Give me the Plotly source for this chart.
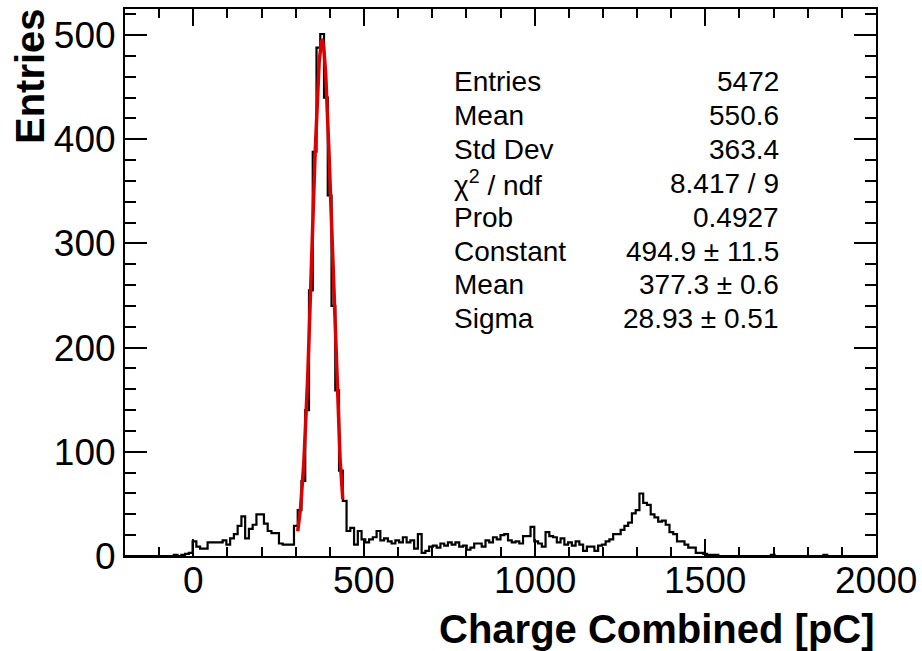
import numpy as np
import plotly.graph_objects as go

# ---------------- data ----------------
n_bins = 200
x_min, x_max = -200.0, 2000.0
counts = ([0] * 13 +
          [1, 0, 1, 2, 3, 14, 9, 7, 7, 13, 13, 13, 13, 15, 11, 17, 21, 29, 38, 17,
           26, 30, 40, 40, 31, 24, 22, 22, 12, 11, 11, 11, 29, 44, 72, 140, 255, 388, 488, 501,
           440, 346, 240, 159, 82, 53, 24, 27, 11, 24, 16, 13, 16, 18, 24, 15, 17, 14, 12, 15,
           13, 18, 13, 15, 7, 21, 3, 5, 9, 10, 8, 12, 10, 13, 11, 13, 9, 10, 6, 8,
           12, 12, 9, 15, 13, 18, 16, 20, 21, 15, 13, 14, 12, 19, 19, 28, 14, 12, 9, 23,
           19, 18, 13, 17, 11, 13, 10, 14, 11, 5, 9, 9, 5, 10, 11, 14, 16, 21, 21, 25,
           29, 32, 41, 44, 60, 51, 49, 40, 37, 33, 34, 30, 23, 21, 14, 14, 11, 8, 8, 3,
           3, 2, 1, 1, 1] +
          [0] * 14 + [1] + [0] * 13 + [1] + [0] * 13)
assert len(counts) == n_bins

# Gaussian fit parameters (from the stats box) and fit range
fit_const, fit_mean, fit_sigma = 494.9, 377.3, 28.93
fit_lo, fit_hi = 306.0, 438.0

stat_labels = ["Entries", "Mean", "Std Dev", "\u03c7<sup>2</sup> / ndf", "Prob",
               "Constant", "Mean", "Sigma"]
stat_values = ["5472", "550.6", "363.4", "8.417 / 9", "0.4927",
               "494.9 \u00b1 11.5", "377.3 \u00b1 0.6", "28.93 \u00b1 0.51"]

x_ticks = [0, 500, 1000, 1500, 2000]
y_ticks = [0, 100, 200, 300, 400, 500]
x_title = "Charge Combined [pC]"
y_title = "Entries"

# ---------------- figure ----------------
W, H = 922, 651
L, R, T, B = 125, 46, 7, 95
pw, ph = W - L - R, H - T - B

def px2paper(px, py):
    return (px - L) / pw, (H - B - py) / ph

edges = np.linspace(x_min, x_max, n_bins + 1)
ystep = list(counts) + [counts[-1]]

xf = np.linspace(fit_lo, fit_hi, 300)
yf = fit_const * np.exp(-0.5 * ((xf - fit_mean) / fit_sigma) ** 2)

FONT = "Liberation Sans, Arial, Helvetica, sans-serif"

fig = go.Figure()
fig.add_trace(go.Scatter(x=edges, y=ystep, mode="lines", line_shape="hv",
                         line=dict(color="black", width=2.2), hoverinfo="skip"))
fig.add_trace(go.Scatter(x=xf, y=yf, mode="lines",
                         line=dict(color="#dd0000", width=3.5), hoverinfo="skip"))

annotations = []
row0, dy = 80, 34
for i, (lab, val) in enumerate(zip(stat_labels, stat_values)):
    yy = row0 + i * dy
    xa, ya = px2paper(452, yy)
    annotations.append(dict(x=xa, y=ya, xref="paper", yref="paper", text=lab,
                            showarrow=False, xanchor="left", yanchor="middle",
                            font=dict(family=FONT, size=28, color="black")))
    xb, yb = px2paper(781, yy)
    annotations.append(dict(x=xb, y=yb, xref="paper", yref="paper", text=val,
                            showarrow=False, xanchor="right", yanchor="middle",
                            font=dict(family=FONT, size=28, color="black")))

# x tick labels (placed as text just below the axis)
for v in x_ticks:
    _, yl = px2paper(0, 581)
    annotations.append(dict(x=v, y=yl, xref="x", yref="paper", text=str(v),
                            showarrow=False, xanchor="center", yanchor="middle",
                            font=dict(family=FONT, size=37, color="black")))

# axis titles
xt, yt = px2paper(877, 629)
annotations.append(dict(x=xt, y=yt, xref="paper", yref="paper", text="<b>%s</b>" % x_title,
                        showarrow=False, xanchor="right", yanchor="middle",
                        font=dict(family=FONT, size=40, color="black")))
xt, yt = px2paper(30, 4)
annotations.append(dict(x=xt, y=yt, xref="paper", yref="paper", text="<b>%s</b>" % y_title,
                        showarrow=False, xanchor="center", yanchor="top", textangle=-90,
                        font=dict(family=FONT, size=40, color="black")))

fig.update_layout(
    width=W, height=H,
    margin=dict(l=L, r=R, t=T, b=B),
    paper_bgcolor="white", plot_bgcolor="white",
    showlegend=False,
    annotations=annotations,
)
fig.update_xaxes(range=[x_min, x_max], tickvals=x_ticks, showticklabels=False,
                 showgrid=False, zeroline=False,
                 showline=True, linecolor="black", linewidth=2, mirror="allticks",
                 ticks="inside", ticklen=17, tickwidth=1.5, tickcolor="black",
                 minor=dict(ticks="inside", ticklen=9, tickwidth=1.5, tickcolor="black",
                            dtick=100, tick0=0, showgrid=False))
fig.update_yaxes(range=[0, 525], tickvals=y_ticks, ticktext=[str(v) for v in y_ticks],
                 showgrid=False, zeroline=False,
                 showline=True, linecolor="black", linewidth=2, mirror="allticks",
                 ticks="inside", ticklen=22, tickwidth=1.5, tickcolor="black",
                 minor=dict(ticks="inside", ticklen=11, tickwidth=1.5, tickcolor="black",
                            dtick=20, tick0=0, showgrid=False),
                 tickfont=dict(family=FONT, size=37, color="black"))

fig.write_html("out.html")
